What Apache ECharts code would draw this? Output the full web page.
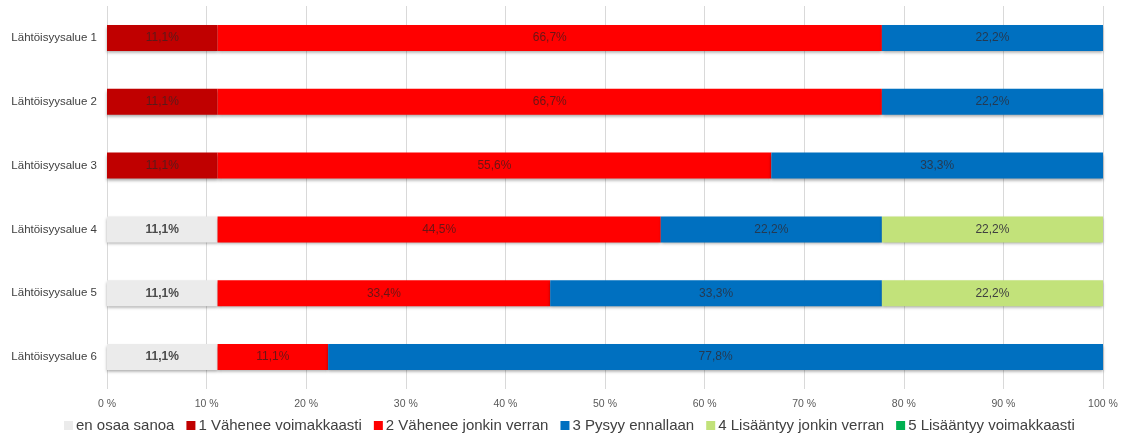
<!DOCTYPE html>
<html>
<head>
<meta charset="utf-8">
<script src="https://cdn.jsdelivr.net/npm/echarts@6/dist/echarts.min.js"></script>
<style>
  html, body { margin: 0; padding: 0; background: #fff; }
  #chart { width: 1125px; height: 440px; }
</style>
</head>
<body>
<div id="chart"></div>
<script>
// Alueet ylhäältä alas
const categories = ['Lähtöisyysalue 1', 'Lähtöisyysalue 2', 'Lähtöisyysalue 3', 'Lähtöisyysalue 4', 'Lähtöisyysalue 5', 'Lähtöisyysalue 6'];

// Vastausten osuudet (%) kullekin alueelle
const enOsaaSanoa        = [0, 0, 0, 11.1, 11.1, 11.1];
const vaheneeVoimakkaasti = [11.1, 11.1, 11.1, 0, 0, 0];
const vaheneeJonkin       = [66.7, 66.7, 55.6, 44.5, 33.4, 11.1];
const pysyyEnnallaan      = [22.2, 22.2, 33.3, 22.2, 33.3, 77.8];
const lisaantyyJonkin     = [0, 0, 0, 22.2, 22.2, 0];
const lisaantyyVoimakkaasti = [0, 0, 0, 0, 0, 0];

const xTicks = [0, 10, 20, 30, 40, 50, 60, 70, 80, 90, 100];

const seriesDefs = [
  { name: 'en osaa sanoa', data: enOsaaSanoa, color: '#EBEBEB', labelColor: '#4a4a4a', bold: true },
  { name: '1 Vähenee voimakkaasti', data: vaheneeVoimakkaasti, color: '#C00000', labelColor: '#5a1a1a' },
  { name: '2 Vähenee jonkin verran', data: vaheneeJonkin, color: '#FF0000', labelColor: '#6a1515' },
  { name: '3 Pysyy ennallaan', data: pysyyEnnallaan, color: '#0070C0', labelColor: '#243a52' },
  { name: '4 Lisääntyy jonkin verran', data: lisaantyyJonkin, color: '#C2E27A', labelColor: '#404040' },
  { name: '5 Lisääntyy voimakkaasti', data: lisaantyyVoimakkaasti, color: '#00B050', labelColor: '#404040' }
];

const fmt = v => v.toFixed(1).replace('.', ',') + '%';

const chart = echarts.init(document.getElementById('chart'));
chart.setOption({
  animation: false,
  backgroundColor: '#fff',
  grid: { left: 107, right: 22, top: 6, bottom: 51, containLabel: false },
  xAxis: {
    type: 'value',
    min: 0,
    max: 100,
    interval: 10,
    axisLine: { show: false },
    axisTick: { show: false },
    splitLine: { show: true, lineStyle: { color: '#D9D9D9', width: 1 } },
    axisLabel: {
      margin: 10,
      color: '#595959',
      fontFamily: 'Liberation Sans, Arial, sans-serif',
      fontSize: 10.5,
      formatter: v => (xTicks.includes(v) ? v + ' %' : '')
    }
  },
  yAxis: {
    type: 'category',
    data: categories,
    inverse: true,
    axisLine: { show: false },
    axisTick: { show: false },
    axisLabel: {
      margin: 10,
      color: '#404040',
      fontFamily: 'Liberation Sans, Arial, sans-serif',
      fontSize: 11.5
    }
  },
  legend: {
    bottom: 2,
    left: 59,
    icon: 'rect',
    itemWidth: 9,
    itemHeight: 9,
    itemGap: 12,
    textStyle: {
      color: '#404040',
      fontFamily: 'Liberation Sans, Arial, sans-serif',
      fontSize: 15,
      padding: [0, 0, 0, -2]
    },
    data: seriesDefs.map(s => s.name)
  },
  series: seriesDefs.map(s => ({
    name: s.name,
    type: 'bar',
    stack: 'total',
    barWidth: 26,
    data: s.data,
    itemStyle: {
      color: s.color,
      shadowColor: 'rgba(0,0,0,0.35)',
      shadowBlur: 3,
      shadowOffsetY: 2
    },
    label: {
      show: true,
      position: 'inside',
      color: s.labelColor,
      fontFamily: 'Liberation Sans, Arial, sans-serif',
      fontSize: 12,
      fontWeight: s.bold ? 'bold' : 'normal',
      formatter: p => (p.value > 0 ? fmt(p.value) : '')
    }
  }))
});
</script>
</body>
</html>
